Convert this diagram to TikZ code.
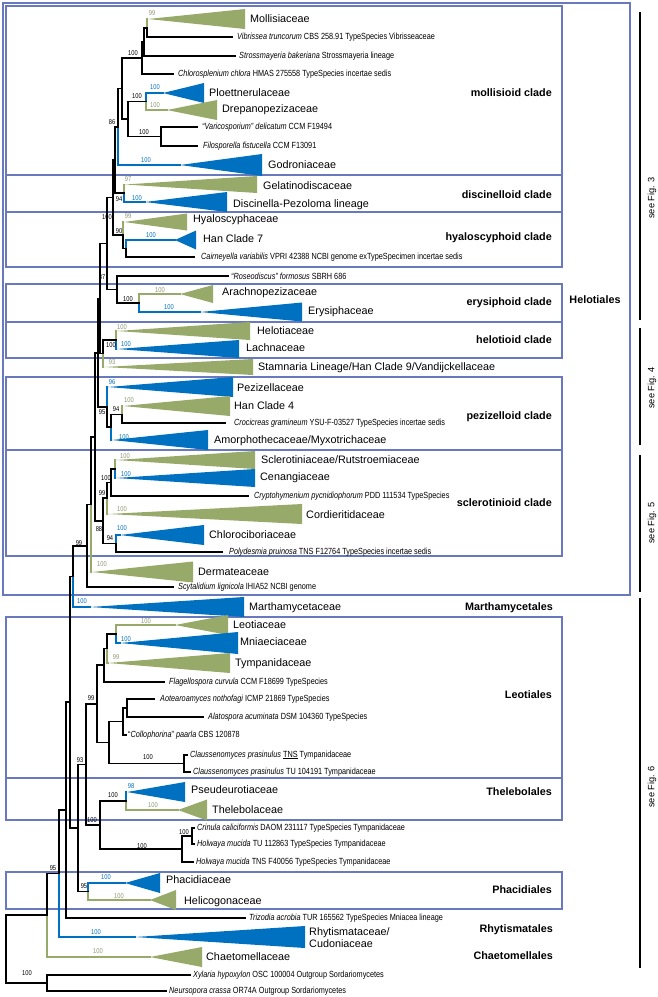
\documentclass[tikz,border=0pt]{standalone}
\usepackage{fontspec}
\setmainfont{Liberation Sans}
\newfontfamily\nar[FakeStretch=0.82]{Liberation Sans}
\definecolor{cblue}{RGB}{0,112,192}
\definecolor{cgreen}{RGB}{152,170,106}
\definecolor{cgtxt}{RGB}{140,152,112}
\definecolor{cbox}{RGB}{104,122,189}
\newcommand\tri[5]{\fill[#5] (#1,#2) -- (#3,{#2-#4}) -- (#3,{#2+#4}) -- cycle;}
\tikzset{
  br/.style={line width=1.8pt, black, line cap=rect},
  bb/.style={line width=1.4pt, cblue, line cap=rect},
  bg/.style={line width=1.4pt, cgreen, line cap=rect},
  leaf/.style={font=\nar\fontsize{8.9}{9.5}\selectfont, anchor=west, inner sep=0pt},
  fam/.style={font=\fontsize{10.8}{12}\selectfont, anchor=west, inner sep=0pt},
  sk/.style={font=\nar\fontsize{7}{7.5}\selectfont, inner sep=0pt},
  sg/.style={sk, text=cgtxt},
  sb/.style={sk, text=cblue},
  cl/.style={font=\bfseries\fontsize{10.8}{12}\selectfont, anchor=east, inner sep=0pt},
  bxthin/.style={draw=cbox, line width=1.2pt},
  bxthick/.style={draw=cbox, line width=2.6pt},
  barline/.style={line width=1.6pt, black},
  seefig/.style={rotate=90, font=\fontsize{9.2}{10}\selectfont, inner sep=0pt}
}
\begin{document}
\begin{tikzpicture}[x=1pt,y=-1pt]
\useasboundingbox (0,0) rectangle (657,997);
\fill[white] (0,0) rectangle (657,997);

% ---------- boxes ----------
\draw[bxthick] (3,3) rectangle (630,595);
\draw[bxthin] (6,6) rectangle (562,175);
\draw[bxthin] (6,175) rectangle (562,212);
\draw[bxthin] (6,212) rectangle (562,267);
\draw[bxthin] (6,284) rectangle (562,322);
\draw[bxthin] (6,322) rectangle (562,358);
\draw[bxthin] (6,377) rectangle (562,450);
\draw[bxthin] (6,450) rectangle (562,556);
\draw[bxthick] (6,617) rectangle (562,778);
\draw[bxthick] (6,778) rectangle (562,820);
\draw[bxthick] (6,872) rectangle (562,909);

% ---------- right bars ----------
\draw[barline] (640,12) -- (640,320);
\draw[barline] (640,328) -- (640,445);
\draw[barline] (640,455) -- (640,592);
\draw[barline] (640,598) -- (640,968);
\node[seefig] (f3) at (652,198) {see Fig. 3};
\node[seefig] (f4) at (652,388) {see Fig. 4};
\node[seefig] (f5) at (652,523) {see Fig. 5};
\node[seefig] (f6) at (652,787) {see Fig. 6};

% ---------- triangles ----------
\tri{148}{19}{245}{10}{cgreen}
\tri{163}{93}{204}{10}{cblue}
\tri{167}{110}{217}{10}{cgreen}
\tri{180}{165}{262}{11}{cblue}
\tri{125}{184.5}{257}{8.5}{cgreen}
\tri{145}{202}{227}{10}{cblue}
\tri{124}{222}{187}{8.5}{cgreen}
\tri{175}{240}{196}{9.5}{cblue}
\tri{180}{294}{213}{9}{cgreen}
\tri{200}{312}{302}{9.5}{cblue}
\tri{117}{331}{250}{9}{cgreen}
\tri{117}{349}{239}{9}{cblue}
\tri{104}{367}{253}{8}{cgreen}
\tri{108}{387}{233}{10}{cblue}
\tri{123}{406}{230}{10}{cgreen}
\tri{112}{440}{208}{10}{cblue}
\tri{116}{460}{255}{9}{cgreen}
\tri{116}{478}{255}{9}{cblue}
\tri{108}{514}{302}{10}{cgreen}
\tri{120}{535}{204}{10}{cblue}
\tri{92}{572}{193}{10.5}{cgreen}
\tri{90}{607}{244}{10}{cblue}
\tri{175}{625}{228}{10}{cgreen}
\tri{120}{643}{238}{11}{cblue}
\tri{108}{663}{230}{10}{cgreen}
\tri{127}{792}{185}{10}{cblue}
\tri{178}{810}{207}{10.5}{cgreen}
\tri{125}{883}{160}{10}{cblue}
\tri{150}{900}{176}{10}{cgreen}
\tri{135}{937}{305}{11}{cblue}
\tri{150}{957}{202}{10}{cgreen}

% ---------- tree : mollisioid ----------
\draw[bg] (147,19) -- (147,28);
\draw[br] (147,28) -- (147,37) (147,37) -- (232,37);
\draw[br] (144,28) -- (144,56) (144,28) -- (147,28) (144,56) -- (235,56);
\draw[br] (142,42) -- (142,74) (142,42) -- (144,42) (142,74) -- (173,74);
\draw[bb] (146,93) -- (146,101.5) (146,93) -- (163,93);
\draw[bg] (146,101.5) -- (146,110) (146,110) -- (167,110);
\draw[br] (161,127) -- (161,146) (161,127) -- (197,127) (161,146) -- (197,146);
\draw[br] (128,101.5) -- (128,136.5) (128,101.5) -- (146,101.5) (128,136.5) -- (161,136.5);
\draw[br] (122,58) -- (122,119) (122,58) -- (142,58) (122,119) -- (128,119);
\draw[br] (118,88.5) -- (118,126.75) (118,88.5) -- (122,88.5);
\draw[bb] (118,126.75) -- (118,165) (118,165) -- (180,165);
% discinelloid
\draw[bg] (124,184.5) -- (124,193);
\draw[bb] (124,193) -- (124,202) (124,202) -- (145,202);
\draw[br] (115,126.75) -- (115,193) (115,126.75) -- (118,126.75) (115,193) -- (124,193);
% hyaloscyphoid
\draw[bb] (126,240) -- (126,248.5) (126,240) -- (175,240);
\draw[br] (126,248.5) -- (126,257) (126,257) -- (194,257);
\draw[bg] (123,222) -- (123,235);
\draw[br] (123,235) -- (123,248.5) (123,248.5) -- (126,248.5);
\draw[br] (113,160) -- (113,235) (113,160) -- (115,160) (113,235) -- (123,235);
% Roseodiscus + erysiphoid
\draw[bg] (139,294) -- (139,303) (139,294) -- (180,294);
\draw[bb] (139,303) -- (139,312) (139,312) -- (200,312);
\draw[br] (117,276) -- (117,303) (117,276) -- (228,276) (117,303) -- (139,303);
\draw[br] (107,197.5) -- (107,289.5) (107,197.5) -- (113,197.5) (107,289.5) -- (117,289.5);
% helotioid + Stamnaria
\draw[bg] (116,331) -- (116,340);
\draw[bb] (116,340) -- (116,349);
\draw[br] (103,340) -- (103,353.5) (103,340) -- (116,340);
\draw[bg] (103,353.5) -- (103,367);
\draw[br] (100,243.5) -- (100,353.5) (100,243.5) -- (107,243.5) (100,353.5) -- (103,353.5);
% pezizelloid
\draw[bg] (122,406) -- (122,414.5);
\draw[br] (122,414.5) -- (122,423) (122,423) -- (225,423);
\draw[br] (111,414.5) -- (111,427) (111,414.5) -- (122,414.5);
\draw[bb] (111,427) -- (111,440);
\draw[bb] (107,387) -- (107,407);
\draw[br] (107,407) -- (107,427) (107,427) -- (111,427);
\draw[br] (98,298.5) -- (98,407) (98,298.5) -- (100,298.5) (98,407) -- (107,407);
% sclerotinioid
\draw[bg] (115,460) -- (115,469);
\draw[bb] (115,469) -- (115,478);
\draw[br] (111,469) -- (111,496) (111,469) -- (115,469) (111,496) -- (248,496);
\draw[br] (107,482.5) -- (107,498.25) (107,482.5) -- (111,482.5);
\draw[bg] (107,498.25) -- (107,514);
\draw[bb] (116,535) -- (116,543.5) (116,535) -- (120,535);
\draw[br] (116,543.5) -- (116,552) (116,552) -- (222,552);
\draw[br] (103,498.25) -- (103,543.5) (103,498.25) -- (107,498.25) (103,543.5) -- (116,543.5);
\draw[br] (95,352.75) -- (95,520.9) (95,352.75) -- (98,352.75) (95,520.9) -- (103,520.9);
\draw[br] (91,436.8) -- (91,504.4) (91,436.8) -- (95,436.8);
\draw[bg] (91,504.4) -- (91,572);
\draw[br] (87,504.4) -- (87,587) (87,504.4) -- (91,504.4) (87,587) -- (173,587);
\draw[br] (73,545.7) -- (73,576.4) (73,545.7) -- (87,545.7);
\draw[bb] (73,576.4) -- (73,607) (73,607) -- (90,607);
% Leotiales
\draw[bg] (116,625) -- (116,634) (116,625) -- (175,625);
\draw[bb] (116,634) -- (116,643) (116,643) -- (120,643);
\draw[br] (107,634) -- (107,648.5) (107,634) -- (116,634);
\draw[bg] (107,648.5) -- (107,663) (107,663) -- (108,663);
\draw[br] (104,648.5) -- (104,682) (104,648.5) -- (107,648.5) (104,682) -- (164,682);
\draw[br] (127,699) -- (127,717) (127,699) -- (154,699) (127,717) -- (203,717);
\draw[br] (123,708) -- (123,735) (123,708) -- (127,708) (123,735) -- (126,735);
\draw[br] (184,755) -- (184,772) (184,755) -- (187,755) (184,772) -- (190,772);
\draw[br] (109,721.5) -- (109,763.5) (109,721.5) -- (123,721.5) (109,763.5) -- (184,763.5);
\draw[br] (97,665) -- (97,742.5) (97,665) -- (104,665) (97,742.5) -- (109,742.5);
% Thelebolales + Tympanidaceae group
\draw[bb] (126,792) -- (126,801);
\draw[bg] (126,801) -- (126,810) (126,810) -- (178,810);
\draw[br] (192,828) -- (192,844) (192,828) -- (194,828) (192,844) -- (194,844);
\draw[br] (182,836) -- (182,862) (182,836) -- (192,836) (182,862) -- (193,862);
\draw[br] (100,801) -- (100,849) (100,801) -- (126,801) (100,849) -- (182,849);
\draw[br] (86,703.75) -- (86,825) (86,703.75) -- (97,703.75) (86,825) -- (100,825);
% Phacidiales
\draw[bb] (88,883) -- (88,891.5) (88,883) -- (125,883);
\draw[bg] (88,891.5) -- (88,900) (88,900) -- (150,900);
\draw[br] (78,764.4) -- (78,891.5) (78,764.4) -- (86,764.4) (78,891.5) -- (88,891.5);
% backbone
\draw[br] (70,576.4) -- (70,828) (70,576.4) -- (73,576.4) (70,828) -- (78,828);
\draw[br] (66,702) -- (66,918) (66,702) -- (70,702) (66,918) -- (245,918);
\draw[br] (59,810) -- (59,873.5) (59,810) -- (66,810);
\draw[bb] (59,873.5) -- (59,937) (59,937) -- (135,937);
\draw[br] (47,873.5) -- (47,915) (47,873.5) -- (59,873.5);
\draw[bg] (47,915) -- (47,957) (47,957) -- (150,957);
\draw[br] (47,975) -- (47,991) (47,975) -- (190,975) (47,991) -- (166,991);
\draw[br] (6,915) -- (6,983) (6,915) -- (47,915) (6,983) -- (47,983);

% ---------- family labels ----------
\node[fam] (Moll) at (250,19) {Mollisiaceae};
\node[fam] (Ploe) at (209,93) {Ploettnerulaceae};
\node[fam] (Drep) at (222,110) {Drepanopezizaceae};
\node[fam] (Godr) at (268,165) {Godroniaceae};
\node[fam] (Gela) at (263,185.5) {Gelatinodiscaceae};
\node[fam] (Disc) at (233,205) {Discinella-Pezoloma lineage};
\node[fam] (Hyal) at (193,220) {Hyaloscyphaceae};
\node[fam] (Han7) at (203,239) {Han Clade 7};
\node[fam] (Arac) at (222,293) {Arachnopezizaceae};
\node[fam] (Erys) at (308,312) {Erysiphaceae};
\node[fam] (Helo) at (257,331) {Helotiaceae};
\node[fam] (Lach) at (246,348) {Lachnaceae};
\node[fam] (Stam) at (258,368) {Stamnaria Lineage/Han Clade 9/Vandijckellaceae};
\node[fam] (Pezi) at (237,388) {Pezizellaceae};
\node[fam] (Han4) at (234,406) {Han Clade 4};
\node[fam] (Amor) at (214,441) {Amorphothecaceae/Myxotrichaceae};
\node[fam] (Scle) at (261,460) {Sclerotiniaceae/Rutstroemiaceae};
\node[fam] (Cena) at (260,478) {Cenangiaceae};
\node[fam] (Cord) at (306,515) {Cordieritidaceae};
\node[fam] (Chlc) at (209,535) {Chlorociboriaceae};
\node[fam] (Derm) at (198,572) {Dermateaceae};
\node[fam] (Mart) at (249,608) {Marthamycetaceae};
\node[fam] (Leot) at (233,625) {Leotiaceae};
\node[fam] (Mnia) at (240,642) {Mniaeciaceae};
\node[fam] (Tymp) at (235,664) {Tympanidaceae};
\node[fam] (Pseu) at (191,790) {Pseudeurotiaceae};
\node[fam] (Thel) at (212,810) {Thelebolaceae};
\node[fam] (Phac) at (166,880) {Phacidiaceae};
\node[fam] (Heli) at (184,902) {Helicogonaceae};
\node[fam, align=left] (Rhyt) at (309,938) {Rhytismataceae/\\Cudoniaceae};
\node[fam] (Chae) at (206,957) {Chaetomellaceae};

% ---------- leaf labels ----------
\node[leaf] (l1) at (237,37) {\textit{Vibrissea truncorum} CBS 258.91 TypeSpecies Vibrisseaceae};
\node[leaf] (l2) at (239,56) {\textit{Strossmayeria bakeriana} Strossmayeria lineage};
\node[leaf] (l3) at (178,74) {\textit{Chlorosplenium chlora} HMAS 275558 TypeSpecies incertae sedis};
\node[leaf] (l4) at (202,127) {\textit{“Varicosporium” delicatum} CCM F19494};
\node[leaf] (l5) at (203,146) {\textit{Filosporella fistucella} CCM F13091};
\node[leaf] (l6) at (201,257) {\textit{Cairneyella variabilis} VPRI 42388 NCBI genome exTypeSpecimen incertae sedis};
\node[leaf] (l7) at (231,276) {\textit{“Roseodiscus” formosus} SBRH 686};
\node[leaf] (l8) at (234,423) {\textit{Crocicreas gramineum} YSU-F-03527 TypeSpecies incertae sedis};
\node[leaf] (l9) at (254,496) {\textit{Cryptohymenium pycnidiophorum} PDD 111534 TypeSpecies};
\node[leaf] (l10) at (229,552) {\textit{Polydesmia pruinosa} TNS F12764 TypeSpecies incertae sedis};
\node[leaf] (l11) at (178,587) {\textit{Scytalidium lignicola} IHIA52 NCBI genome};
\node[leaf] (l12) at (169,682) {\textit{Flagellospora curvula} CCM F18699 TypeSpecies};
\node[leaf] (l13) at (160,699) {\textit{Aotearoamyces nothofagi} ICMP 21869 TypeSpecies};
\node[leaf] (l14) at (208,717) {\textit{Alatospora acuminata} DSM 104360 TypeSpecies};
\node[leaf] (l15) at (128,735) {“\textit{Collophorina}” \textit{paarla} CBS 120878};
\node[leaf] (l16) at (190,755) {\textit{Claussenomyces prasinulus} \underline{TNS} Tympanidaceae};
\node[leaf] (l17) at (193,772) {\textit{Claussenomyces prasinulus} TU 104191 Tympanidaceae};
\node[leaf] (l18) at (197,828) {\textit{Crinula caliciformis} DAOM 231117 TypeSpecies Tympanidaceae};
\node[leaf] (l19) at (197,844) {\textit{Holwaya mucida} TU 112863 TypeSpecies Tympanidaceae};
\node[leaf] (l20) at (196,862) {\textit{Holwaya mucida} TNS F40056 TypeSpecies Tympanidaceae};
\node[leaf] (l21) at (249,918) {\textit{Trizodia acrobia} TUR 165562 TypeSpecies Mniacea lineage};
\node[leaf] (l22) at (193,975) {\textit{Xylaria hypoxylon} OSC 100004 Outgroup Sordariomycetes};
\node[leaf] (l23) at (169,991) {\textit{Neursopora crassa} OR74A Outgroup Sordariomycetes};

% ---------- clade / order labels ----------
\node[cl] (c1) at (552,93) {mollisioid clade};
\node[cl] (c2) at (552,195) {discinelloid clade};
\node[cl] (c3) at (552,238) {hyaloscyphoid clade};
\node[cl] (c4) at (552,303) {erysiphoid clade};
\node[cl] (c5) at (552,340) {helotioid clade};
\node[cl] (c6) at (552,417) {pezizelloid clade};
\node[cl] (c7) at (552,503) {sclerotinioid clade};
\node[cl] (c8) at (553,608) {Marthamycetales};
\node[cl] (c9) at (552,695) {Leotiales};
\node[cl] (c10) at (552,792) {Thelebolales};
\node[cl] (c11) at (552,890) {Phacidiales};
\node[cl] (c12) at (553,930) {Rhytismatales};
\node[cl] (c13) at (553,956) {Chaetomellales};
\node[cl, anchor=center] (c14) at (595,300) {Helotiales};

% ---------- support values ----------
\node[sk] at (133,53) {100};
\node[sk] at (137,96) {100};
\node[sk] at (144,132) {100};
\node[sk] at (112,122) {86};
\node[sk] at (119,199) {94};
\node[sk] at (107,217) {100};
\node[sk] at (119,231) {90};
\node[sk] at (102,277) {87};
\node[sk] at (128,299) {100};
\node[sk] at (111,345) {100};
\node[sk] at (102,412) {95};
\node[sk] at (116,409) {94};
\node[sk] at (106,478) {100};
\node[sk] at (102,493) {99};
\node[sk] at (99,529) {88};
\node[sk] at (110,538) {94};
\node[sk] at (79,543) {99};
\node[sk] at (91,698) {99};
\node[sk] at (148,757) {100};
\node[sk] at (80,760) {93};
\node[sk] at (113,795) {100};
\node[sk] at (92,820) {100};
\node[sk] at (184,832) {100};
\node[sk] at (142,846) {100};
\node[sk] at (84,886) {95};
\node[sk] at (53,868) {95};
\node[sk] at (27,973) {100};

\node[sg] at (152,13) {99};
\node[sg] at (155,105) {100};
\node[sg] at (128,179) {97};
\node[sg] at (128,216) {99};
\node[sg] at (160,290) {100};
\node[sg] at (122,327) {100};
\node[sg] at (112,362) {93};
\node[sg] at (129,400) {100};
\node[sg] at (125,456) {100};
\node[sg] at (122,509) {100};
\node[sg] at (102,564) {100};
\node[sg] at (146,621) {100};
\node[sg] at (116,657) {99};
\node[sg] at (153,805) {100};
\node[sg] at (119,896) {100};
\node[sg] at (98,951) {100};

\node[sb] at (155,87) {100};
\node[sb] at (146,160) {100};
\node[sb] at (137,198) {100};
\node[sb] at (151,235) {100};
\node[sb] at (169,307) {100};
\node[sb] at (126,344) {100};
\node[sb] at (112,382) {96};
\node[sb] at (124,437) {100};
\node[sb] at (126,474) {100};
\node[sb] at (122,528) {100};
\node[sb] at (82,601) {100};
\node[sb] at (126,639) {100};
\node[sb] at (131,786) {98};
\node[sb] at (106,877) {100};
\node[sb] at (96,932) {100};
\end{tikzpicture}
\end{document}
